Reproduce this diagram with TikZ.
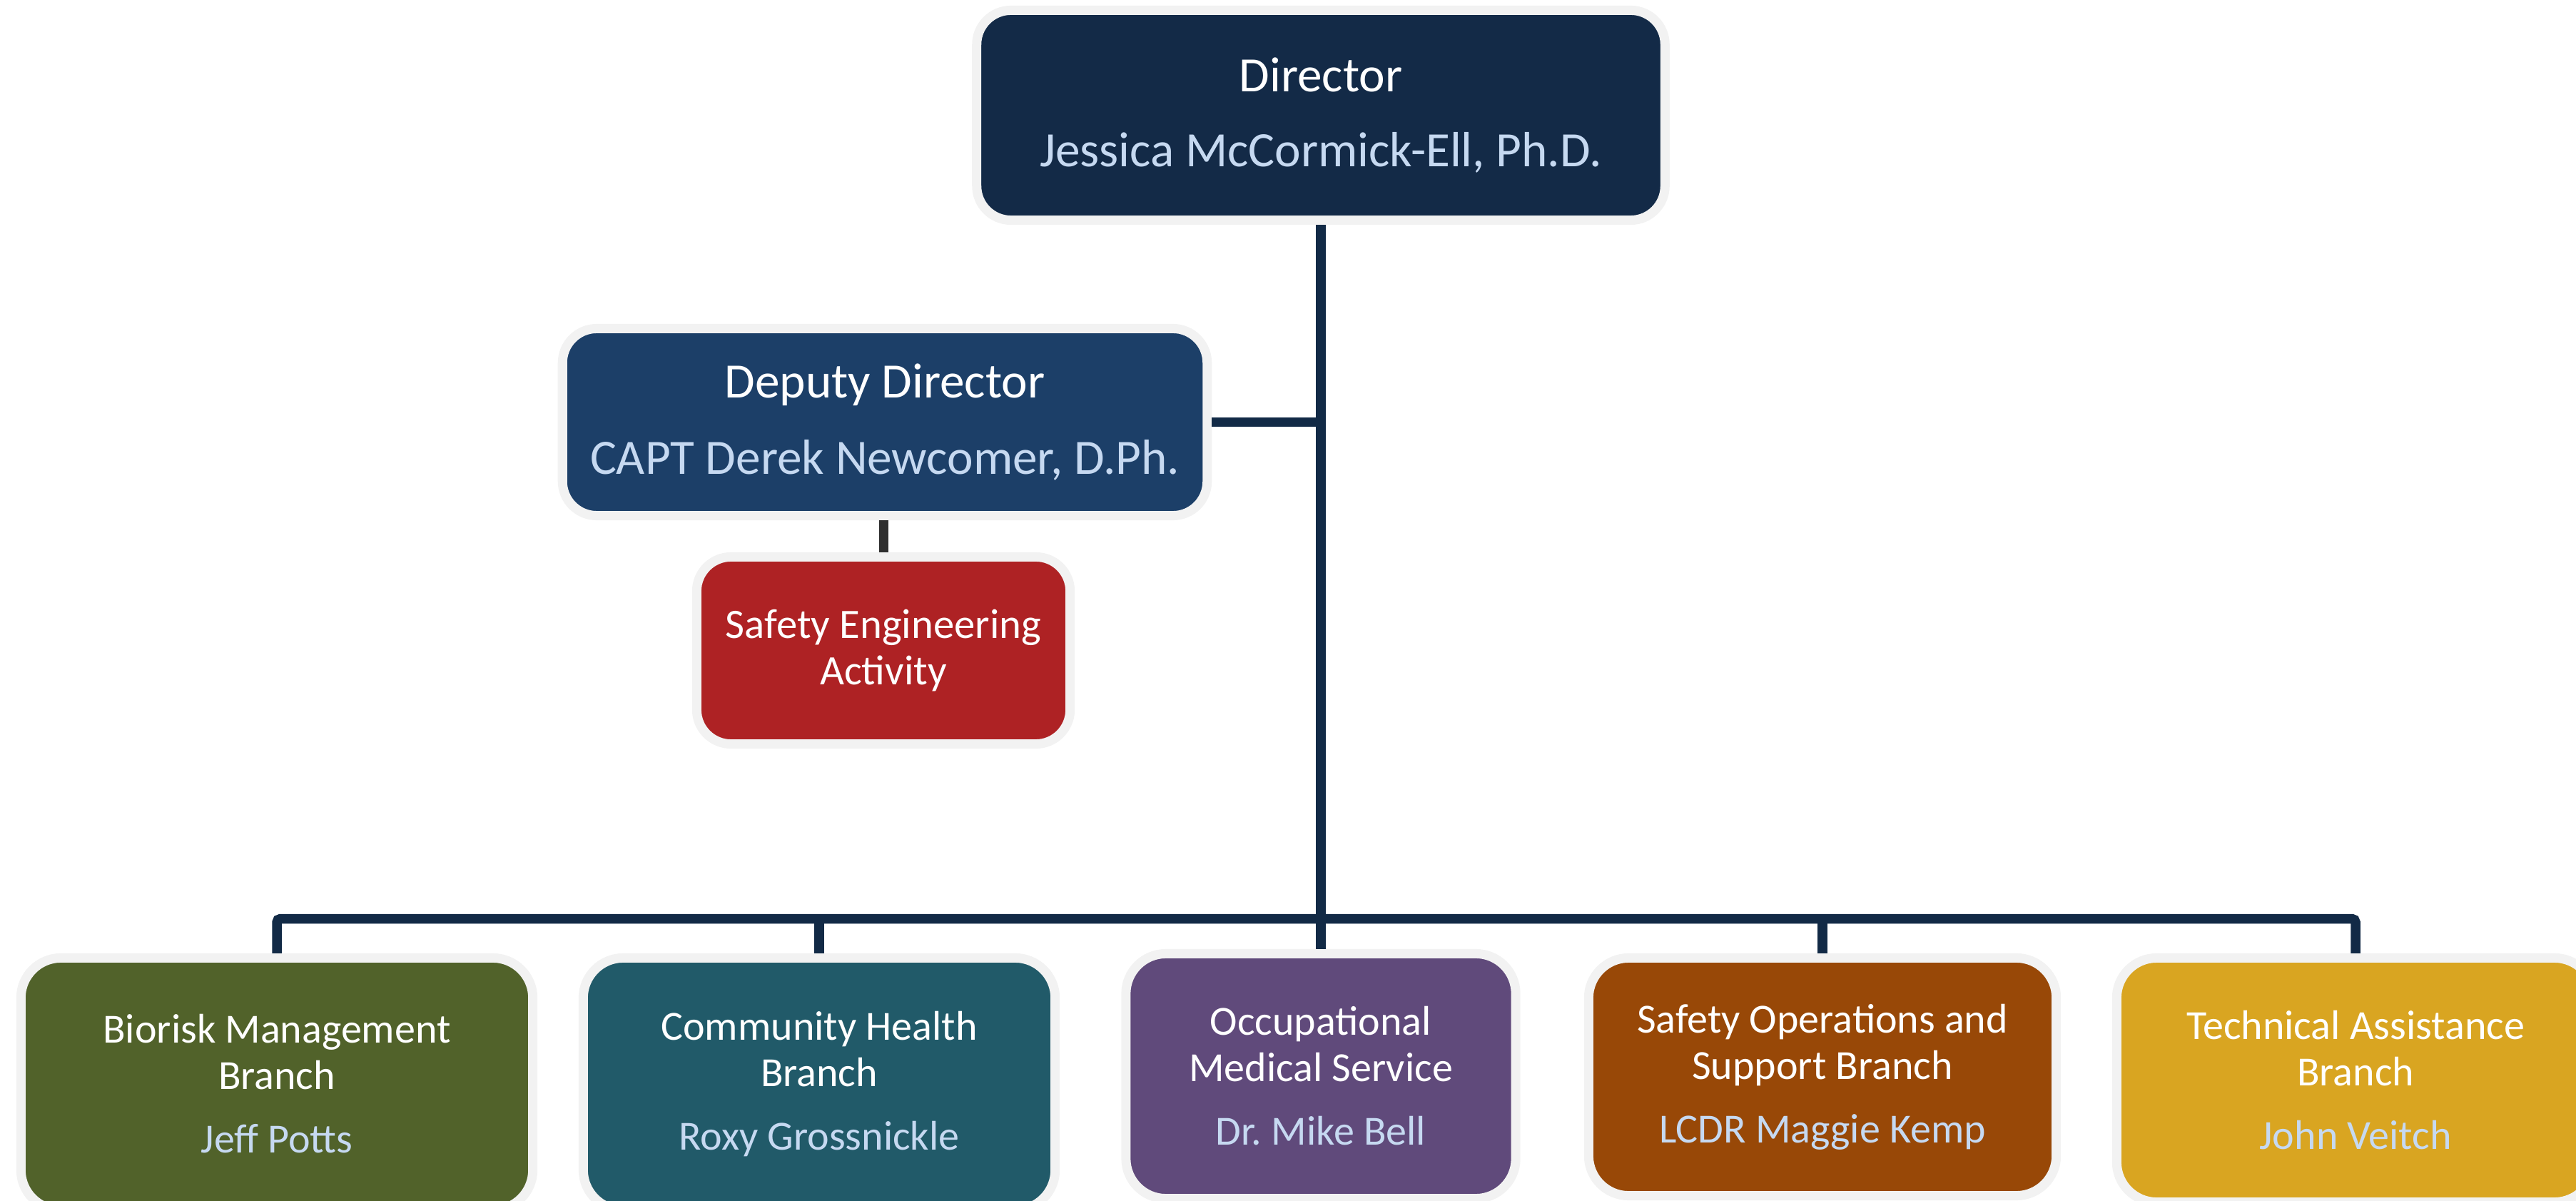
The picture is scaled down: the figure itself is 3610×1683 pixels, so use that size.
\documentclass[tikz,border=0pt]{standalone}
\usepackage{fontspec}
\setmainfont{Carlito}
\definecolor{ringgray}{HTML}{F2F2F2}
\definecolor{connblue}{HTML}{122A46}
\definecolor{stubgray}{HTML}{2F2F2F}
\definecolor{namecol}{HTML}{C6D9F1}
\definecolor{dirfill}{HTML}{132A47}
\definecolor{depfill}{HTML}{1C3F68}
\definecolor{sefill}{HTML}{AE2224}
\definecolor{biofill}{HTML}{51622A}
\definecolor{comfill}{HTML}{215A69}
\definecolor{occfill}{HTML}{604A7B}
\definecolor{sopfill}{HTML}{984807}
\definecolor{tecfill}{HTML}{D9A521}
\newcommand{\pname}[1]{\textcolor{namecol}{#1}}
\begin{document}
\begin{tikzpicture}[x=0.01cm,y=-0.01cm,
  box/.style={rectangle, draw=ringgray, line width=0.13cm, inner sep=0pt, align=center, text=white},
  topbox/.style={box, rounded corners=0.48cm, font=\fontsize{19.7}{23.7}\selectfont},
  midbox/.style={box, rounded corners=0.48cm, font=\fontsize{16.7}{18.7}\selectfont},
  lowbox/.style={box, rounded corners=0.56cm, font=\fontsize{16.5}{18.5}\selectfont},
  conn/.style={draw=connblue, line width=0.135cm},
  stubline/.style={draw=stubgray, line width=0.13cm}]
\useasboundingbox (0,0) rectangle (3610,1683);
\clip (0,0) rectangle (3610,1683);

% boxes
\node[topbox, fill=dirfill, minimum width=9.64cm, minimum height=2.94cm] (dir) at (1851,161.5)
  {Director\\[6.3pt]\pname{Jessica McCormick-Ell, Ph.D.}};
\node[topbox, fill=depfill, minimum width=9.03cm, minimum height=2.62cm] (dep) at (1240,591.5)
  {Deputy Director\\[6.8pt]\pname{CAPT Derek Newcomer, D.Ph.}};
\node[midbox, fill=sefill, minimum width=5.23cm, minimum height=2.62cm] (se) at (1238,911.5)
  {Safety Engineering\\Activity};

\node[lowbox, fill=biofill, minimum width=7.17cm, minimum height=3.53cm] (bio) at (388,1519)
  {Biorisk Management\\Branch\\[6.8pt]\pname{Jeff Potts}};
\node[lowbox, fill=comfill, minimum width=6.61cm, minimum height=3.53cm] (com) at (1148,1519)
  {Community Health\\Branch\\[6.8pt]\pname{Roxy Grossnickle}};
\node[lowbox, fill=occfill, minimum width=5.46cm, minimum height=3.43cm] (occ) at (1851,1508)
  {Occupational\\Medical Service\\[6.8pt]\pname{Dr.\ Mike Bell}};
\node[lowbox, fill=sopfill, minimum width=6.55cm, minimum height=3.33cm] (sop) at (2554,1509)
  {Safety Operations and\\Support Branch\\[6.8pt]\pname{LCDR Maggie Kemp}};
\node[lowbox, fill=tecfill, minimum width=6.69cm, minimum height=3.42cm] (tec) at (3301,1513.5)
  {Technical Assistance\\Branch\\[6.8pt]\pname{John Veitch}};

% connectors
\coordinate (busy) at (0,1287.5);
\draw[conn] (dir.south) -- (occ.north);
\draw[conn] (dep.east) -- (dep.east -| dir.south);
\draw[stubline] (se.north |- dep.south) -- (se.north);
\draw[conn, rounded corners=0.05cm] (bio.north) -- (bio.north |- busy) -- (tec.north |- busy) -- (tec.north);
\draw[conn] (com.north |- busy) -- (com.north);
\draw[conn] (sop.north |- busy) -- (sop.north);
\end{tikzpicture}
\end{document}
